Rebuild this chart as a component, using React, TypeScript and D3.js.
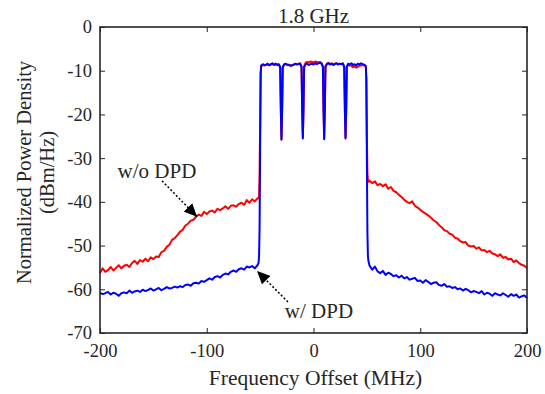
import { useEffect, useRef } from "react"
import * as d3 from "d3"

// frequency grids (MHz)
const lowFreq = d3.range(-200, -51, 2.5)
const bandFreq = [
  -51.5, -51, -50.5, -50, -49.5, -49,
  -47.5, -46, -44.5, -43, -41.5, -40, -38.5, -37, -35.5, -34, -32.5,
  -31.2, -30.6, -30, -29.4, -28.8,
  -27.5, -26, -24.5, -23, -21.5, -20, -18.5, -17, -15.5, -14, -12.5,
  -11.2, -10.6, -10, -9.4, -8.8,
  -7.5, -6, -4.5, -3, -1.5, 0, 1.5, 3, 4.5, 6, 7.5,
  8.8, 9.4, 10, 10.6, 11.2,
  12.5, 14, 15.5, 17, 18.5, 20, 21.5, 23, 24.5, 26, 27.5,
  28.8, 29.4, 30, 30.6, 31.2,
  32.5, 34, 35.5, 37, 38.5, 40, 41.5, 43, 44.5, 46, 47.5,
  49, 49.5, 50, 50.5, 51, 51.5,
]
const highFreq = d3.range(52.5, 200.01, 2.5)

// w/o DPD (red)
const redLow = [
  -56.3, -55.2, -56.0, -55.6, -54.9, -55.7, -55.1, -54.5, -55.2, -54.6,
  -54.4, -54.9, -54.0, -53.5, -54.2, -53.3, -53.7, -53.0, -53.6, -52.7,
  -53.1, -52.5, -52.6, -51.5, -51.2, -50.3, -49.8, -48.7, -48.3, -47.6,
  -46.8, -46.4, -45.4, -45.0, -44.3, -44.1, -43.4, -42.9, -43.2, -42.3,
  -42.8, -42.2, -42.0, -42.4, -41.6, -41.9, -41.5, -41.0, -41.6, -40.9,
  -40.8, -41.1, -40.5, -40.2, -40.7, -39.6, -40.2, -39.4, -39.9, -39.2,
]
const redBand = [
  -39.2, -38.8, -34, -22, -10.5, -8.9,
  -8.7, -8.8, -8.7, -8.6, -8.8, -8.6, -8.5, -8.7, -8.6, -8.7, -8.6,
  -9.3, -19, -25.6, -19, -9.3,
  -8.6, -8.5, -8.7, -8.6, -8.8, -8.7, -8.6, -8.5, -8.5, -8.4, -8.3,
  -9.1, -19, -25.3, -19, -9.0,
  -8.2, -8.0, -8.1, -7.9, -8.0, -8.1, -7.9, -8.0, -8.1, -8.0, -8.2,
  -9.0, -19, -25.4, -19, -9.1,
  -8.4, -8.2, -8.5, -8.3, -8.6, -8.4, -8.3, -8.5, -8.4, -8.5, -8.4,
  -9.2, -19, -25.3, -19, -9.2,
  -8.6, -8.8, -8.9, -9.2, -9.0, -9.3, -9.1, -8.9, -8.8, -8.7, -8.8,
  -9.0, -12, -25, -33.5, -35.0, -35.4,
]
const redHigh = [
  -35.2, -35.7, -35.3, -36.2, -35.9, -36.4, -36.0, -37.0, -36.6, -37.5,
  -37.8, -38.4, -38.9, -39.5, -40.0, -40.3, -39.9, -40.9, -41.3, -41.8,
  -42.3, -42.7, -43.1, -43.6, -44.2, -44.6, -45.3, -45.8, -46.5, -46.7,
  -47.3, -47.5, -48.2, -48.4, -49.0, -49.3, -49.2, -50.0, -50.2, -50.1,
  -50.7, -50.4, -51.1, -51.0, -51.5, -51.2, -51.8, -52.0, -52.4, -52.0,
  -52.8, -52.6, -53.2, -53.0, -53.8, -53.4, -54.0, -54.4, -54.6, -55.1,
]

// w/ DPD (blue)
const blueLow = [
  -60.8, -61.1, -60.9, -60.6, -61.2, -60.8, -61.0, -61.5, -60.9, -60.7,
  -60.9, -60.3, -60.8, -60.5, -60.3, -60.6, -60.1, -60.4, -60.2, -59.8,
  -60.3, -60.0, -59.7, -60.2, -59.9, -59.5, -59.8, -59.7, -59.4, -59.6,
  -59.3, -59.5, -59.0, -58.9, -59.2, -58.6, -58.5, -58.7, -58.1, -58.3,
  -57.9, -57.5, -57.8, -57.2, -57.0, -57.3, -56.7, -56.4, -56.6, -56.0,
  -55.7, -56.0, -55.4, -55.2, -55.5, -54.8, -55.0, -54.7, -55.2, -54.5,
]
const blueBand = [
  -54.0, -52.5, -46, -28, -11, -8.8,
  -8.5, -8.7, -8.6, -8.4, -8.7, -8.5, -8.3, -8.6, -8.4, -8.6, -8.5,
  -9.2, -19, -25.8, -19, -9.2,
  -8.5, -8.4, -8.6, -8.7, -8.9, -8.8, -8.6, -8.4, -8.6, -8.5, -8.4,
  -9.2, -19, -25.5, -19, -9.2,
  -8.6, -8.4, -8.7, -8.5, -8.4, -8.6, -8.3, -8.5, -8.3, -8.2, -8.4,
  -9.1, -19, -25.7, -19, -9.1,
  -8.5, -8.3, -8.6, -8.4, -8.7, -8.5, -8.3, -8.6, -8.4, -8.5, -8.3,
  -9.1, -19, -25.5, -19, -9.1,
  -8.4, -8.6, -8.3, -8.7, -8.5, -8.8, -8.4, -8.6, -8.3, -8.5, -8.6,
  -8.9, -12, -30, -47, -52.5, -53.6,
]
const blueHigh = [
  -54.6, -55.5, -54.8, -55.9, -56.3, -55.8, -56.7, -56.2, -56.5, -57.0,
  -56.8, -57.3, -56.9, -57.5, -57.2, -57.8, -57.6, -57.4, -58.1, -58.0,
  -58.5, -57.9, -58.3, -58.8, -58.5, -58.4, -59.0, -59.2, -58.8, -59.4,
  -59.3, -59.7, -59.5, -60.0, -59.8, -60.3, -59.9, -60.2, -60.7, -60.4,
  -60.6, -60.9, -60.4, -61.2, -60.8, -61.0, -61.5, -60.9, -61.2, -61.4,
  -60.9, -61.3, -61.7, -61.1, -61.5, -61.2, -61.9, -61.6, -61.4, -62.0,
]

const xTicks = [-200, -100, 0, 100, 200]
const yTicks = [-70, -60, -50, -40, -30, -20, -10, 0]

const annotations = [
  { label: "w/o DPD", tx: -146.6, ty: -34.5, x1: -141.9, y1: -35.2, x2: -109.1, y2: -43.4 },
  { label: "w/ DPD", tx: 5.1, ty: -66.6, x1: -23.9, y1: -62.9, x2: -52.9, y2: -55.8 },
]

const W = 545
const H = 394
const ink = "#262626"
const font = "Liberation Serif, Times New Roman, serif"

export default function App() {
  const svgRef = useRef<SVGSVGElement | null>(null)

  useEffect(() => {
    if (!svgRef.current) return
    const svg = d3.select(svgRef.current)
    svg.selectAll("*").remove()

    const left = 100, right = 527, top = 27, bottom = 333
    const x = d3.scaleLinear().domain([-200, 200]).range([left, right])
    const y = d3.scaleLinear().domain([-70, 0]).range([bottom, top])

    const freq = [...lowFreq, ...bandFreq, ...highFreq]
    const red = [...redLow, ...redBand, ...redHigh]
    const blue = [...blueLow, ...blueBand, ...blueHigh]

    const line = d3
      .line<number>()
      .x((d, i) => x(freq[i]))
      .y((d) => y(d))

    svg.append("path")
      .attr("d", line(red))
      .attr("fill", "none")
      .attr("stroke", "#ff0000")
      .attr("stroke-width", 2)
      .attr("stroke-linejoin", "round")

    svg.append("path")
      .attr("d", line(blue))
      .attr("fill", "none")
      .attr("stroke", "#0000ff")
      .attr("stroke-width", 2)
      .attr("stroke-linejoin", "round")

    // axes (ticks pointing inward)
    const styleAxis = (g: any) => {
      g.select(".domain").remove()
      g.attr("font-family", font).attr("font-size", 18.5)
      g.selectAll("line").attr("stroke", ink).attr("stroke-width", 1)
      g.selectAll("text").attr("fill", ink)
    }
    svg.append("g")
      .attr("transform", `translate(0,${bottom})`)
      .call(d3.axisBottom(x).tickValues(xTicks).tickSize(-5).tickPadding(11).tickFormat((d) => String(d)))
      .call(styleAxis)
    svg.append("g")
      .attr("transform", `translate(0,${top})`)
      .call(d3.axisTop(x).tickValues(xTicks).tickSize(-5).tickFormat(() => ""))
      .call(styleAxis)
    svg.append("g")
      .attr("transform", `translate(${left},0)`)
      .call(d3.axisLeft(y).tickValues(yTicks).tickSize(-5).tickPadding(8).tickFormat((d) => String(d)))
      .call(styleAxis)
    svg.append("g")
      .attr("transform", `translate(${right},0)`)
      .call(d3.axisRight(y).tickValues(yTicks).tickSize(-5).tickFormat(() => ""))
      .call(styleAxis)

    svg.append("rect")
      .attr("x", left).attr("y", top)
      .attr("width", right - left).attr("height", bottom - top)
      .attr("fill", "none").attr("stroke", ink).attr("stroke-width", 1.6)

    // title and axis labels
    svg.append("text")
      .attr("x", (left + right) / 2).attr("y", 23)
      .attr("text-anchor", "middle")
      .attr("fill", ink).attr("font-family", font).attr("font-size", 21)
      .text("1.8 GHz")

    svg.append("text")
      .attr("x", 315.5).attr("y", 385)
      .attr("text-anchor", "middle")
      .attr("fill", ink).attr("font-family", font).attr("font-size", 21.5)
      .text("Frequency Offset (MHz)")

    const yl = svg.append("text")
      .attr("transform", "translate(31,172.5) rotate(-90)")
      .attr("text-anchor", "middle")
      .attr("fill", ink).attr("font-family", font).attr("font-size", 20.5)
    yl.append("tspan").attr("x", 0).attr("y", 0).text("Normalized Power Density")
    yl.append("tspan").attr("x", 0).attr("y", 23).text("(dBm/Hz)")

    // annotation arrows
    svg.append("defs").append("marker")
      .attr("id", "head")
      .attr("markerUnits", "userSpaceOnUse")
      .attr("markerWidth", 14).attr("markerHeight", 12)
      .attr("refX", 13).attr("refY", 6)
      .attr("orient", "auto")
      .append("path")
      .attr("d", "M0,0 L13,6 L0,12 Z")
      .attr("fill", "#000")

    annotations.forEach((a) => {
      svg.append("line")
        .attr("x1", x(a.x1)).attr("y1", y(a.y1))
        .attr("x2", x(a.x2)).attr("y2", y(a.y2))
        .attr("stroke", "#000").attr("stroke-width", 1.5)
        .attr("stroke-dasharray", "2,2")
        .attr("marker-end", "url(#head)")
      svg.append("text")
        .attr("x", x(a.tx)).attr("y", y(a.ty))
        .attr("text-anchor", "middle")
        .attr("fill", ink).attr("font-family", font).attr("font-size", 21)
        .text(a.label)
    })
  }, [])

  return (
    <svg
      ref={svgRef}
      width={W}
      height={H}
      style={{ position: "absolute", left: 0, top: 0, background: "#fff" }}
    />
  )
}
